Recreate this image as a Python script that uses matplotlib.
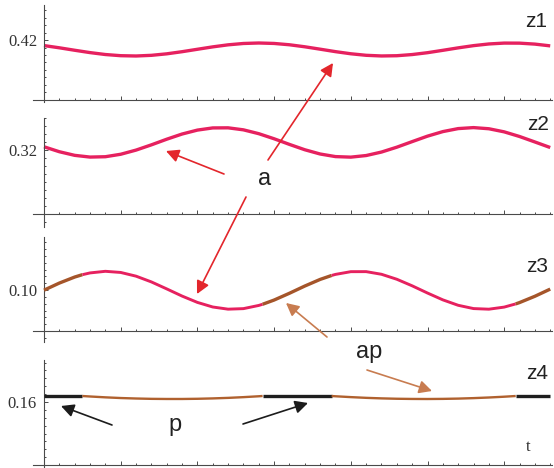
import numpy as np
import matplotlib.pyplot as plt
from matplotlib.ticker import MultipleLocator, FixedLocator

# sample times (regular grid) for z1, z2
t = [0.0, 0.2, 0.4, 0.6, 0.8, 1.0, 1.2, 1.4, 1.6, 1.8, 2.0, 2.2, 2.4, 2.6, 2.8, 3.0, 3.2,
     3.4, 3.6, 3.8, 4.0, 4.2, 4.4, 4.6, 4.8, 5.0, 5.2, 5.4, 5.6, 5.8, 6.0, 6.2, 6.4, 6.6]

z1 = [0.41814, 0.41740, 0.41658, 0.41580, 0.41516, 0.41477, 0.41467, 0.41489, 0.41539,
      0.41610, 0.41691, 0.41771, 0.41839, 0.41884, 0.41900, 0.41885, 0.41841, 0.41774,
      0.41694, 0.41612, 0.41541, 0.41490, 0.41468, 0.41476, 0.41515, 0.41577, 0.41656,
      0.41738, 0.41812, 0.41868, 0.41897, 0.41895, 0.41863, 0.41804]

z2 = [0.32101, 0.31946, 0.31833, 0.31779, 0.31790, 0.31867, 0.31997, 0.32161, 0.32337,
      0.32499, 0.32622, 0.32690, 0.32693, 0.32630, 0.32510, 0.32351, 0.32175, 0.32008,
      0.31875, 0.31794, 0.31777, 0.31827, 0.31936, 0.32088, 0.32262, 0.32433, 0.32575,
      0.32669, 0.32700, 0.32664, 0.32567, 0.32422, 0.32251, 0.32077]

# z3, z4 sampled on a grid that also holds the colour switch times
t34 = [0.0, 0.2, 0.4, 0.5, 0.6, 0.8, 1.0, 1.2, 1.4, 1.6, 1.8, 2.0, 2.2, 2.4, 2.6, 2.8, 2.85,
       3.0, 3.2, 3.4, 3.6, 3.75, 3.8, 4.0, 4.2, 4.4, 4.6, 4.8, 5.0, 5.2, 5.4, 5.6, 5.8, 6.0,
       6.15, 6.2, 6.4, 6.6]

z3 = [0.09992, 0.10338, 0.10632, 0.10747, 0.10833, 0.10912, 0.10856, 0.10675, 0.10394,
      0.10054, 0.09704, 0.09395, 0.09171, 0.09065, 0.09091, 0.09247, 0.09304, 0.09510,
      0.09841, 0.10193, 0.10516, 0.10709, 0.10761, 0.10894, 0.10896, 0.10767, 0.10524,
      0.10204, 0.09852, 0.09519, 0.09254, 0.09094, 0.09064, 0.09166, 0.09322, 0.09387,
      0.09694, 0.10044]

z4 = [0.16190, 0.16190, 0.16190, 0.16190, 0.16175, 0.16148, 0.16126, 0.16111, 0.16100,
      0.16096, 0.16096, 0.16102, 0.16114, 0.16131, 0.16154, 0.16182, 0.16190, 0.16190,
      0.16190, 0.16190, 0.16190, 0.16190, 0.16182, 0.16155, 0.16132, 0.16115, 0.16103,
      0.16097, 0.16095, 0.16099, 0.16108, 0.16123, 0.16143, 0.16168, 0.16190, 0.16190,
      0.16190, 0.16190]

switch_t = [0.5, 2.85, 3.75, 6.15]

# panel: name, tick value, origin value, ylim, minor step
panels = [
    ("z1", 0.42, 0.40, (0.399333, 0.431667), 0.0025),
    ("z2", 0.32, 0.30, (0.295938, 0.33), 0.0025),
    ("z3", 0.10, 0.08, (0.074634, 0.125854), 0.02 / 6),
    ("z4", 0.16, 0.14, (0.139048, 0.173333), 0.0025),
]
boxes = [(5, 102), (118, 227), (237, 342), (360, 468)]

W, H = 554, 468
PINK = "#e6215f"
SIENNA = "#a5552a"
BROWN4 = "#b0612f"
AX = "#4a4a4a"

fig = plt.figure(figsize=(W / 100, H / 100), dpi=100)
axes = []
for (name, tv, org, yl, mstep), (top, bot) in zip(panels, boxes):
    ax = fig.add_axes([33 / W, (H - bot) / H, 519 / W, (bot - top) / H])
    ax.set_xlim(-11 / 76.7, 508 / 76.7)
    ax.set_ylim(*yl)
    for s in ("top", "right"):
        ax.spines[s].set_visible(False)
    ax.spines["left"].set_position(("data", 0))
    ax.spines["bottom"].set_position(("data", org))
    for s in ("left", "bottom"):
        ax.spines[s].set_color(AX)
        ax.spines[s].set_linewidth(0.8)
    ax.xaxis.set_major_locator(MultipleLocator(1))
    ax.xaxis.set_minor_locator(MultipleLocator(0.2))
    ax.set_xticklabels([])
    ax.yaxis.set_major_locator(FixedLocator([org, tv]))
    ax.set_yticklabels(["", f"{tv:.2f}"])
    ax.yaxis.set_minor_locator(MultipleLocator(mstep))
    ax.tick_params(which="both", direction="in", color=AX, width=0.7)
    ax.tick_params(which="major", length=3)
    ax.tick_params(which="minor", length=1.6)
    ax.tick_params(axis="y", which="major", pad=5, labelsize=12, labelcolor="#333333")
    for lb in ax.get_yticklabels():
        lb.set_fontfamily("Liberation Serif")
    ax.patch.set_alpha(0)
    axes.append(ax)

ax1, ax2, ax3, ax4 = axes
ax1.plot(t, z1, color=PINK, lw=2.4, solid_capstyle="butt")
ax2.plot(t, z2, color=PINK, lw=2.4, solid_capstyle="butt")

t34a = np.array(t34)
z3a = np.array(z3)
z4a = np.array(z4)
edges = [0.0] + switch_t + [6.6]
for i in range(len(edges) - 1):
    m = (t34a >= edges[i] - 1e-9) & (t34a <= edges[i + 1] + 1e-9)
    if i % 2 == 0:
        ax3.plot(t34a[m], z3a[m], color=SIENNA, lw=2.4, solid_capstyle="butt", zorder=3)
        ax4.plot(t34a[m], z4a[m], color="#1e1e1e", lw=2.4, solid_capstyle="butt", zorder=3)
    else:
        ax3.plot(t34a[m], z3a[m], color=PINK, lw=2.1, solid_capstyle="butt", zorder=3)
        ax4.plot(t34a[m], z4a[m], color=BROWN4, lw=1.7, solid_capstyle="butt", zorder=3)


def px(x, y):
    return (x, H - y)


sans = "Liberation Sans"
for name, (x, y) in zip(["z1", "z2", "z3", "z4"], [(547, 27), (549, 130), (548, 272), (548, 379)]):
    fig.text(x / W, (H - y) / H, name, ha="right", va="baseline", fontsize=15,
             family=sans, color="#222222")
fig.text(528 / W, (H - 451) / H, "t", ha="center", va="baseline", fontsize=12,
         family="Liberation Serif", color="#333333")

fig.text(265 / W, (H - 185) / H, "a", ha="center", va="baseline", fontsize=17, family=sans, color="#222222")
fig.text(369 / W, (H - 358) / H, "ap", ha="center", va="baseline", fontsize=17, family=sans, color="#222222")
fig.text(175 / W, (H - 431) / H, "p", ha="center", va="baseline", fontsize=17, family=sans, color="#222222")

arrows = [
    ((268, 160), (333, 63), "#e3262c"),
    ((224, 174), (166, 151), "#e3262c"),
    ((246, 197), (197, 294), "#e3262c"),
    ((327, 337), (286, 303), "#c87c50"),
    ((367, 370), (432, 391), "#c87c50"),
    ((112, 425), (61, 406), "#1c1c1c"),
    ((243, 424), (308, 403), "#1c1c1c"),
]
for tail, head, col in arrows:
    ax4.annotate("", xy=px(*head), xytext=px(*tail), xycoords="figure pixels",
                 textcoords="figure pixels", annotation_clip=False,
                 arrowprops=dict(arrowstyle="-|>,head_length=0.55,head_width=0.28",
                                 mutation_scale=14, color=col, lw=1.2,
                                 shrinkA=0, shrinkB=0))

fig.savefig("out.png", dpi=100)
